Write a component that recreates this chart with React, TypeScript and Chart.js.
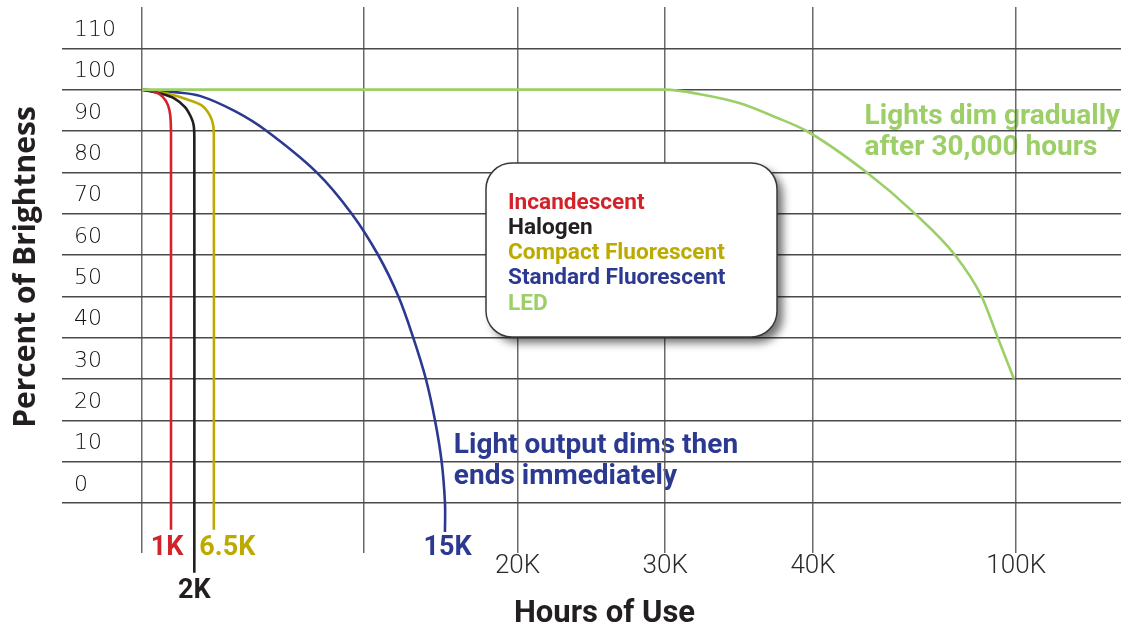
import React, { useEffect, useRef } from 'react';
import { Chart, registerables } from 'chart.js';

Chart.register(...registerables);

// ---- data ----
const seriesNames = ['Incandescent', 'Halogen', 'Compact Fluorescent', 'Standard Fluorescent', 'LED'];
const seriesColors = ['#d2232a', '#231f20', '#bcaa00', '#2b3990', '#9ccf67'];
const endLabels = ['1K', '2K', '6.5K', '15K', ''];

// x = position along the (not-to-scale) "Hours of Use" axis, in axis units; y = percent of brightness
const incandescent = [[0, 100], [0.45, 99.7], [0.8, 98.9], [1.08, 97.3], [1.24, 95], [1.3, 92], [1.31, 85], [1.31, -6.5]];
const halogen = [[0, 100], [0.89, 99], [1.49, 97.8], [1.94, 95.8], [2.21, 93.4], [2.33, 91.4], [2.36, 88], [2.36, -16.9]];
const compactFluorescent = [[0, 100], [1.18, 99], [1.94, 97.8], [2.69, 96.2], [3.06, 93.8], [3.21, 91.4], [3.24, 88], [3.24, -6.5]];
const standardFluorescent = [[0, 100], [1.49, 99.4], [2.61, 98.5], [4.19, 94.8], [5.62, 90], [7.87, 80], [9.45, 70], [10.64, 60], [11.55, 50], [12.22, 40], [12.79, 30], [13.2, 20], [13.5, 10], [13.65, 0], [13.65, -7]];
const led = [[0, 100], [12, 100], [23.57, 100], [25.14, 98.9], [26.94, 96.7], [28.51, 93.4], [29.94, 90], [32.64, 80], [34.82, 70], [36.62, 60], [37.82, 50], [38.55, 40], [39.28, 30]];
const seriesData = [incandescent, halogen, compactFluorescent, standardFluorescent, led];

const xTickPositions = [0, 10, 16.92, 23.57, 30.23, 39.38];
const xTickLabels = ['', '', '20K', '30K', '40K', '100K'];
const yTickLabels = ['0', '10', '20', '30', '40', '50', '60', '70', '80', '90', '100', '110'];

const noteLed = ['Lights dim gradually', 'after 30,000 hours'];
const noteFluorescent = ['Light output dims then', 'ends immediately'];

const overlayPlugin = {
  id: 'overlay',
  beforeDraw(chart: any) {
    const { ctx, scales } = chart;
    const x = scales.x, y = scales.y;
    ctx.save();
    ctx.font = 'bold 28px Roboto';
    ctx.textAlign = 'left';
    ctx.textBaseline = 'alphabetic';
    const notes = [
      { lines: noteLed, ax: 32.55, ay: 91.6, color: seriesColors[4] },
      { lines: noteFluorescent, ax: 14.05, ay: 12.17, color: seriesColors[3] },
    ];
    for (const n of notes) {
      const px = x.getPixelForValue(n.ax);
      const py = y.getPixelForValue(n.ay);
      ctx.fillStyle = n.color;
      n.lines.forEach((t, i) => ctx.fillText(t, px, py + i * 31));
    }
    ctx.restore();
  },
  afterDraw(chart: any) {
    const { ctx, chartArea } = chart;
    ctx.save();

    // legend box
    const bx = 486, by = 163, bw = 291, bh = 174, r = 26;
    ctx.beginPath();
    ctx.moveTo(bx + r, by);
    ctx.arcTo(bx + bw, by, bx + bw, by + bh, r);
    ctx.arcTo(bx + bw, by + bh, bx, by + bh, r);
    ctx.arcTo(bx, by + bh, bx, by, r);
    ctx.arcTo(bx, by, bx + bw, by, r);
    ctx.closePath();
    ctx.shadowColor = 'rgba(0,0,0,0.55)';
    ctx.shadowBlur = 9;
    ctx.shadowOffsetX = 6;
    ctx.shadowOffsetY = 6;
    ctx.fillStyle = '#ffffff';
    ctx.fill();
    ctx.shadowColor = 'rgba(0,0,0,0)';
    ctx.strokeStyle = '#3a3a3a';
    ctx.lineWidth = 1.5;
    ctx.stroke();

    ctx.font = 'bold 22.6px Roboto';
    ctx.textAlign = 'left';
    ctx.textBaseline = 'alphabetic';
    chart.data.datasets.forEach((ds: any, i: number) => {
      ctx.fillStyle = ds.borderColor;
      ctx.fillText(ds.label, bx + 22, by + 45.5 + i * 25.3);
    });

    // end-of-life labels
    const dx = [-4, 0, 13.5, 2.5, 0];
    const row = [52, 95, 52, 52, 52];
    ctx.font = 'bold 27px Roboto';
    ctx.textAlign = 'center';
    endLabels.forEach((t, i) => {
      if (!t) return;
      const pts = chart.getDatasetMeta(i).data;
      const last = pts[pts.length - 1];
      ctx.fillStyle = seriesColors[i];
      ctx.fillText(t, last.x + dx[i], chartArea.bottom + row[i]);
    });

    // axis titles
    ctx.fillStyle = '#231f20';
    ctx.font = 'bold 31px Roboto';
    ctx.textAlign = 'center';
    ctx.fillText('Hours of Use', 604.5, 622);

    ctx.translate(35, (chartArea.top + chartArea.bottom) / 2 + 12);
    ctx.rotate(-Math.PI / 2);
    ctx.font = 'bold 30px "Open Sans"';
    ctx.fillText('Percent of Brightness', 0, 0);
    ctx.restore();
  },
};

export default function App() {
  const ref = useRef<HTMLCanvasElement>(null);
  useEffect(() => {
    const chart = new Chart(ref.current as HTMLCanvasElement, {
      type: 'line',
      data: {
        datasets: seriesData.map((d, i) => ({
          label: seriesNames[i],
          data: d.map(([x, y]) => ({ x, y })),
          borderColor: seriesColors[i],
          backgroundColor: seriesColors[i],
          borderWidth: 2.6,
          pointRadius: 0,
          fill: false,
          tension: i === 4 ? 0 : 0.35,
          cubicInterpolationMode: i === 4 ? 'monotone' : 'default',
          clip: false,
          order: i === 4 ? 0 : i + 1,
          borderJoinStyle: 'round',
        })) as any,
      },
      options: {
        responsive: false,
        animation: false,
        layout: { padding: { left: 62, top: 7, right: 5, bottom: 47 } },
        plugins: {
          legend: { display: false },
          tooltip: { enabled: false },
          title: { display: false },
        },
        scales: {
          x: {
            type: 'linear',
            position: 'bottom',
            min: -3.6,
            max: 44.1,
            afterBuildTicks: (s: any) => {
              s.ticks = xTickPositions.map((v) => ({ value: v }));
            },
            afterFit: (s: any) => {
              s.paddingLeft = 0;
              s.paddingRight = 0;
            },
            border: { display: false },
            grid: { color: '#6a6a6a', lineWidth: 1.5, tickLength: 50, drawTicks: true },
            ticks: {
              autoSkip: false,
              maxRotation: 0,
              padding: 0,
              color: '#2a2a2a',
              font: { family: 'Roboto', size: 26, weight: '300', lineHeight: 1 },
              callback: (_v: any, i: number) => xTickLabels[i] ?? '',
            },
          },
          y: {
            type: 'linear',
            min: 0,
            max: 120,
            afterFit: (s: any) => {
              s.width = 0;
              s.paddingTop = 0;
              s.paddingBottom = 0;
            },
            border: { display: false },
            grid: {
              color: (c: any) => (c.tick && c.tick.value >= 120 ? 'rgba(0,0,0,0)' : '#4a4a4a'),
              lineWidth: 1.5,
              drawTicks: false,
            },
            ticks: {
              stepSize: 10,
              mirror: true,
              padding: 12,
              labelOffset: -18,
              color: '#111111',
              font: { family: 'DejaVu Sans', size: 22, weight: '300' },
              callback: (_v: any, i: number) => yTickLabels[i] ?? '',
            },
          },
        },
      } as any,
      plugins: [overlayPlugin],
    });
    return () => chart.destroy();
  }, []);
  return (
    <div style={{ position: 'fixed', left: 0, top: 0, width: 1126, height: 626, background: '#ffffff' }}>
      <canvas ref={ref} width={1126} height={626} style={{ display: 'block' }} />
    </div>
  );
}
